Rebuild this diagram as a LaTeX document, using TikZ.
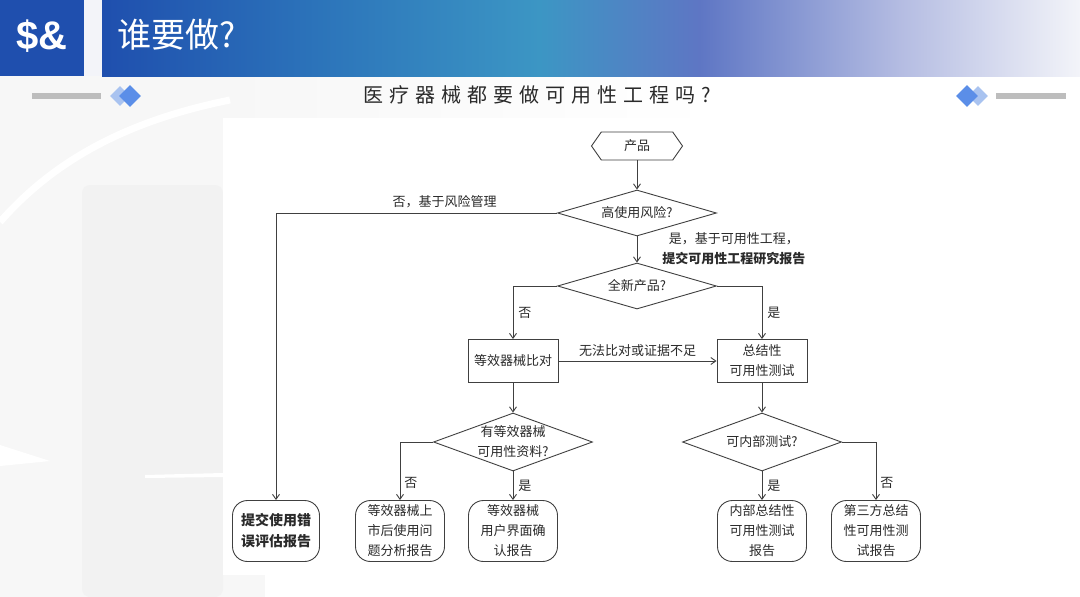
\documentclass[tikz,border=0pt]{standalone}
\usepackage{fontspec}
\setmainfont{Liberation Sans}
\newfontfamily\cjk{Noto Sans CJK SC}
\usetikzlibrary{shapes.geometric,shapes.symbols,arrows.meta}
\definecolor{hblue}{HTML}{1F4FAE}
\definecolor{hmid}{HTML}{2C74BA}
\definecolor{hteal}{HTML}{3C96C4}
\definecolor{hviolet}{HTML}{5E76C4}
\definecolor{hlav}{HTML}{B4BCE2}
\definecolor{hwhite}{HTML}{F3F4F9}
\definecolor{bgray}{HTML}{F7F7F7}
\definecolor{bgray2}{HTML}{F2F2F2}
\definecolor{lineC}{HTML}{404040}
\definecolor{txtC}{HTML}{2A2A2A}
\definecolor{dkdia}{HTML}{5B8EE8}
\definecolor{ltdia}{HTML}{A9C3F0}
\definecolor{barC}{HTML}{BDBDBD}
\begin{document}
\begin{tikzpicture}[x=1pt,y=-1pt,
  flow/.style={font=\fontsize{13}{20}\selectfont\cjk, text=txtC},
  box/.style={flow, draw=lineC, line width=0.9pt, fill=white, minimum width=90pt, minimum height=43pt, inner sep=2pt, align=center},
  dia/.style={draw=lineC, line width=0.9pt, fill=white, diamond, minimum width=159pt, minimum height=46pt, inner sep=0pt},
  hex/.style={flow, draw=lineC, line width=0.9pt, fill=white, signal, signal to=west and east, signal pointer angle=110, minimum width=91pt, minimum height=28pt, inner sep=1pt},
  term/.style={flow, draw=lineC, line width=0.9pt, fill=white, rounded corners=15pt, minimum width=89pt, minimum height=61pt, align=center, inner sep=1pt},
  arr/.style={draw=lineC, line width=0.9pt, -{Straight Barb[length=5pt,width=7pt]}},
  lab/.style={flow, inner sep=1pt},
  deco/.style={diamond, inner sep=0pt}]
\useasboundingbox (0,0) rectangle (1080,597);
% background
\fill[white] (0,0) rectangle (1080,597);
\fill[bgray] (0,76) rectangle (223,597);
\shade[left color=bgray, right color=white] (223,76) rectangle (720,118);
\fill[bgray] (223,575) rectangle (265,597);
\fill[bgray2, rounded corners=8pt] (82,185) rectangle (223,597);
\draw[white, line width=7pt] (0,222) .. controls (50,165) and (120,122) .. (230,100);
\fill[white] (0,445) -- (50,461) -- (0,466) -- cycle;
\fill[white] (145,475) -- (223,473) -- (223,477) -- (145,478) -- cycle;
\fill[white] (223,118) rectangle (1080,575);
% header
\fill[hblue] (0,0) rectangle (84,76);
\fill[hwhite] (84,0) rectangle (102,76);
\shade[left color=hblue, right color=hmid] (102,0) rectangle (320,76);
\shade[left color=hmid, right color=hteal] (319.5,0) rectangle (540,76);
\shade[left color=hteal, right color=hviolet] (539.5,0) rectangle (700,76);
\shade[left color=hviolet, right color=hlav] (699.5,0) rectangle (900,76);
\shade[left color=hlav, right color=hwhite] (899.5,0) rectangle (1080,76);
\node[text=white, font=\bfseries\fontsize{40}{40}\selectfont] (logo) at (42,36) {\$\&};
\node[anchor=west, text=white, font=\fontsize{34}{34}\selectfont\cjk] (title) at (114,35) {谁要做?};
% decorations
\fill[barC] (32,93) rectangle (101,99);
\node[deco, fill=ltdia, minimum width=20pt, minimum height=20pt] (dl1) at (120,96) {};
\node[deco, fill=dkdia, minimum width=22pt, minimum height=22pt] (dl2) at (130,96) {};
\node[deco, fill=ltdia, minimum width=20pt, minimum height=20pt] (dr1) at (978,96) {};
\node[deco, fill=dkdia, minimum width=22pt, minimum height=22pt] (dr2) at (967,96) {};
\fill[barC] (996,93) rectangle (1066,99);
\node[text=txtC, font=\fontsize{20}{20}\selectfont\cjk\addfontfeature{LetterSpace=30}] (sub) at (537,95) {医疗器械都要做可用性工程吗?};
% flowchart nodes
\node[hex] (p) at (637,146) {产品};
\node[dia] (d1) at (637,213) {};
\node[flow] (d1t) at (d1) {高使用风险?};
\node[dia] (d2) at (637,286) {};
\node[flow] (d2t) at (d2) {全新产品?};
\node[box] (e1) at (513,361) {等效器械比对};
\node[box] (e2) at (762,361) {总结性\\可用性测试};
\node[dia, minimum height=58pt] (d3) at (513,442) {};
\node[flow, align=center] (d3t) at (d3) {有等效器械\\可用性资料?};
\node[dia, minimum height=58pt] (d4) at (762,442) {};
\node[flow] (d4t) at (d4) {可内部测试?};
\node[term, minimum width=87pt, font=\fontsize{14}{21}\selectfont\cjk\bfseries] (t1) at (276,531) {提交使用错\\误评估报告};
\node[term] (t2) at (400,531) {等效器械上\\市后使用问\\题分析报告};
\node[term] (t3) at (513,531) {等效器械\\用户界面确\\认报告};
\node[term] (t4) at (762,531) {内部总结性\\可用性测试\\报告};
\node[term] (t5) at (876,531) {第三方总结\\性可用性测\\试报告};
% connectors
\draw[arr] (p.south) -- (d1.north);
\draw[arr] (d1.west) -| (t1.north) node[lab, pos=0.2, above=4pt] {否，基于风险管理};
\draw[arr] (d1.south) -- (d2.north) node[lab, midway, right=24pt, align=center, yshift=1pt] {是，基于可用性工程，\\{\bfseries 提交可用性工程研究报告}};
\draw[arr] (d2.west) -| (e1.north) node[lab, pos=0.75, right=4pt] {否};
\draw[arr] (d2.east) -| (e2.north) node[lab, pos=0.75, right=4pt] {是};
\draw[arr] (e1.east) -- (e2.west) node[lab, midway, above=3pt] {无法比对或证据不足};
\draw[arr] (e1.south) -- (d3.north);
\draw[arr] (e2.south) -- (d4.north);
\draw[arr] (d3.west) -| (t2.north) node[lab, pos=0.85, right=3pt] {否};
\draw[arr] (d3.south) -- (t3.north) node[lab, midway, right=4pt] {是};
\draw[arr] (d4.south) -- (t4.north) node[lab, midway, right=4pt] {是};
\draw[arr] (d4.east) -| (t5.north) node[lab, pos=0.85, right=3pt] {否};
\end{tikzpicture}
\end{document}
